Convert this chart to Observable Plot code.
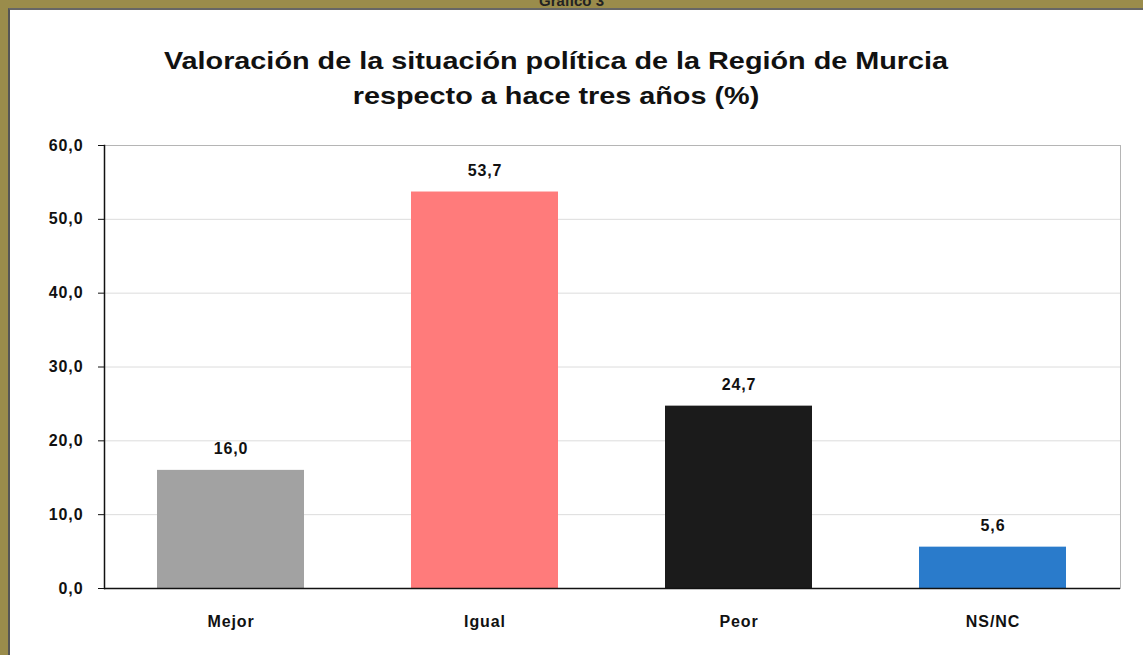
<!DOCTYPE html>
<html>
<head>
<meta charset="utf-8">
<script src="https://cdn.jsdelivr.net/npm/d3@7"></script>
<script src="https://cdn.jsdelivr.net/npm/@observablehq/plot@0.6"></script>
<style>
  html, body { margin: 0; padding: 0; background: #9a8c4b; }
  #wrap { position: relative; width: 1143px; height: 655px; background: #9a8c4b; overflow: hidden; font-family: "Liberation Sans", Arial, sans-serif; }
  #top { position: absolute; left: 0; width: 1143px; top: -8px; text-align: center; font-weight: bold; font-size: 15px; color: #222; }
  #panel { position: absolute; left: 8px; top: 8px; width: 1135px; height: 647px; background: #fff; border-left: 2px solid #555; border-top: 2px solid #666; box-sizing: border-box; }
  #title { position: absolute; left: 0; top: 43px; width: 1112px; text-align: center; font-weight: bold; font-size: 24px; line-height: 35px; color: #111; transform: scaleX(1.2); transform-origin: 556px 0; }
  #chart { position: absolute; left: 0; top: 120px; }
  #chart svg text { letter-spacing: 0.9px; }
</style>
</head>
<body>
<div id="wrap">
  <div id="top">Gráfico 3</div>
  <div id="panel"></div>
  <div id="title">Valoración de la situación política de la Región de Murcia<br>respecto a hace tres años (%)</div>
  <div id="chart"></div>
</div>
<script>
const categories = ["Mejor", "Igual", "Peor", "NS/NC"];
const values = [16.0, 53.7, 24.7, 5.6];
const colors = ["#a2a2a2", "#ff7b7b", "#1b1b1b", "#2a7bcb"];
const yTicks = [0, 10, 20, 30, 40, 50, 60];

const data = categories.map((c, i) => ({cat: c, value: values[i], color: colors[i]}));
const fmt = d => d.toFixed(1).replace(".", ",");

const plot = Plot.plot({
  width: 1143,
  height: 535,
  marginLeft: 104,
  marginRight: 23,
  marginTop: 25,
  marginBottom: 67,
  style: {fontFamily: "'Liberation Sans', Arial, sans-serif", background: "transparent"},
  x: {domain: categories, paddingInner: 0.42, paddingOuter: 0.21, label: null},
  y: {domain: [0, 60], ticks: yTicks, label: null},
  marks: [
    Plot.gridY(yTicks, {stroke: "#dcdcdc", strokeOpacity: 1}),
    Plot.frame({stroke: "#b5b5b5"}),
    Plot.barY(data, {x: "cat", y: "value", fill: "color"}),
    Plot.ruleY([0], {stroke: "#111", strokeWidth: 1.5}),
    Plot.frame({anchor: "left", stroke: "#111", strokeWidth: 1.5}),
    Plot.axisY({ticks: yTicks, tickSize: 6, tickPadding: 15, tickFormat: fmt, fontSize: 16, fontWeight: "bold", fill: "#111", stroke: "#111", label: null}),
    Plot.axisX({tickSize: 0, tickPadding: 27, fontSize: 16, fontWeight: "bold", fill: "#111", label: null}),
    Plot.text(data, {x: "cat", y: "value", text: d => fmt(d.value), dy: -21, fontSize: 16, fontWeight: "bold", fill: "#111"})
  ]
});
document.getElementById("chart").appendChild(plot);
</script>
</body>
</html>
